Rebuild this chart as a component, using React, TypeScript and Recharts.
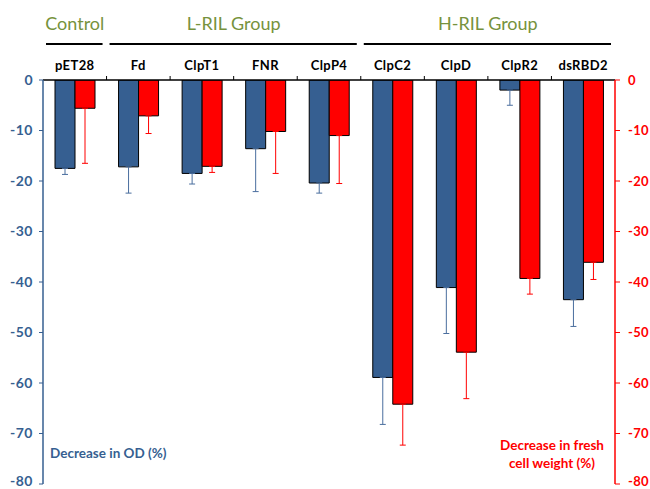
// @ts-nocheck
import { BarChart, Bar, XAxis, YAxis, ErrorBar } from 'recharts';

const categories = ['pET28', 'Fd', 'ClpT1', 'FNR', 'ClpP4', 'ClpC2', 'ClpD', 'ClpR2', 'dsRBD2'];
const odDecrease = [-17.5, -17.2, -18.5, -13.6, -20.4, -58.9, -41.1, -2.0, -43.5];
const odError = [1.2, 5.2, 2.1, 8.5, 2.0, 9.3, 9.1, 3.0, 5.3];
const weightDecrease = [-5.6, -7.1, -17.1, -10.2, -11.0, -64.2, -53.9, -39.3, -36.1];
const weightError = [10.9, 3.5, 1.2, 8.3, 9.5, 8.1, 9.2, 3.1, 3.4];

const groupLabels = ['Control', 'L-RIL Group', 'H-RIL Group'];
const groupStarts = [0, 1, 5];
const groupSizes = [1, 4, 4];

const yTicks = [0, -10, -20, -30, -40, -50, -60, -70, -80];

const data = categories.map((name, i) => ({
  name,
  od: odDecrease[i],
  odErr: [odError[i], 0],
  wt: weightDecrease[i],
  wtErr: [weightError[i], 0],
}));

const W = 650;
const H = 489;
const MARGIN_TOP = 50;
const XAXIS_H = 30;
const AXIS_Y = MARGIN_TOP + XAXIS_H;
const LEFT_W = 43;
const RIGHT_W = 35;

const BLUE = '#365F91';
const BLUE_ERR = '#4A6E9E';
const RED = '#FF0000';
const OLIVE = '#76923C';
const FONT = 'Lato, "Open Sans", sans-serif';

const CategoryTick = (props) => {
  const { x, payload, index, width, visibleTicksCount } = props;
  const band =
    width && visibleTicksCount ? width / visibleTicksCount : (W - LEFT_W - RIGHT_W) / categories.length;
  const half = band / 2;
  const g = groupStarts.indexOf(index);
  let group = null;
  if (g >= 0) {
    const left = x - half;
    const right = left + groupSizes[g] * band;
    group = (
      <g>
        <line x1={left + 3} x2={right - 4} y1={44} y2={44} stroke="#000" strokeWidth={2} />
        <text
          x={(left + right) / 2}
          y={30}
          textAnchor="middle"
          fontSize={18}
          fontFamily={FONT}
          fill={OLIVE}
        >
          {groupLabels[g]}
        </text>
      </g>
    );
  }
  return (
    <g>
      {group}
      {index > 0 && (
        <line x1={x - half} x2={x - half} y1={AXIS_Y} y2={AXIS_Y - 4} stroke="#000" strokeWidth={1} />
      )}
      <text
        x={x}
        y={AXIS_Y - 10}
        textAnchor="middle"
        fontSize={13}
        fontWeight="bold"
        fontFamily={FONT}
        letterSpacing={0.4}
        fill="#000"
      >
        {payload.value}
      </text>
    </g>
  );
};

export default function App() {
  return (
    <div style={{ position: 'absolute', left: 0, top: 0, width: W, height: H, fontFamily: FONT }}>
      <BarChart
        width={W}
        height={H}
        data={data}
        barGap={0}
        margin={{ top: MARGIN_TOP, right: 0, bottom: 5, left: 0 }}
      >
        <XAxis
          dataKey="name"
          orientation="top"
          height={XAXIS_H}
          interval={0}
          axisLine={{ stroke: '#000', strokeWidth: 1.5 }}
          tickLine={false}
          tick={<CategoryTick />}
        />
        <YAxis
          yAxisId="left"
          domain={[-80, 0]}
          ticks={yTicks}
          width={LEFT_W}
          allowDataOverflow
          axisLine={{ stroke: BLUE, strokeWidth: 1.5 }}
          tickLine={{ stroke: BLUE }}
          tickSize={4}
          tickMargin={6}
          tick={{ fill: BLUE, fontSize: 14, fontWeight: 'bold', fontFamily: FONT, letterSpacing: 0.5 }}
        />
        <YAxis
          yAxisId="right"
          orientation="right"
          domain={[-80, 0]}
          ticks={yTicks}
          width={RIGHT_W}
          allowDataOverflow
          axisLine={{ stroke: RED, strokeWidth: 1.5 }}
          tickLine={{ stroke: RED }}
          tickSize={5}
          tickMargin={8}
          tick={{ fill: RED, fontSize: 13, fontWeight: 'bold', fontFamily: FONT, letterSpacing: 0.3 }}
        />
        <Bar
          yAxisId="left"
          dataKey="od"
          fill={BLUE}
          stroke="#000"
          strokeWidth={1}
          barSize={20}
          isAnimationActive={false}
        >
          <ErrorBar dataKey="odErr" width={3} stroke={BLUE_ERR} strokeWidth={1} />
        </Bar>
        <Bar
          yAxisId="right"
          dataKey="wt"
          fill={RED}
          stroke="#000"
          strokeWidth={1}
          barSize={20}
          isAnimationActive={false}
        >
          <ErrorBar dataKey="wtErr" width={3} stroke={RED} strokeWidth={1} />
        </Bar>
      </BarChart>
      <div
        style={{
          position: 'absolute',
          left: 50,
          top: 445,
          fontSize: 13.5,
          lineHeight: '16px',
          fontWeight: 'bold',
          color: BLUE,
          whiteSpace: 'nowrap',
        }}
      >
        Decrease in OD (%)
      </div>
      <div
        style={{
          position: 'absolute',
          left: 487,
          width: 130,
          top: 436,
          fontSize: 13.5,
          lineHeight: '18px',
          fontWeight: 'bold',
          color: RED,
          textAlign: 'center',
        }}
      >
        Decrease in fresh
        <br />
        cell weight (%)
      </div>
    </div>
  );
}
